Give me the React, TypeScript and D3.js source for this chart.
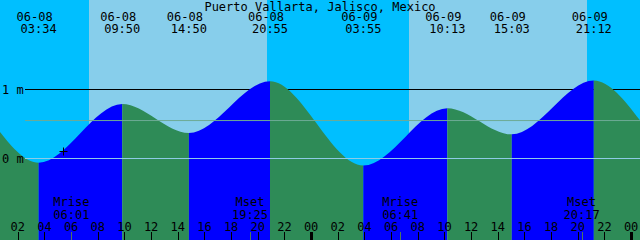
import React from "react";
import * as d3 from "d3";

const title = "Puerto Vallarta, Jalisco, Mexico";
const extremeTimes = [
  "2024-06-07T14:30",
  "2024-06-07T20:35",
  "2024-06-08T03:34",
  "2024-06-08T09:50",
  "2024-06-08T14:50",
  "2024-06-08T20:55",
  "2024-06-09T03:55",
  "2024-06-09T10:13",
  "2024-06-09T15:03",
  "2024-06-09T21:12",
  "2024-06-10T04:15",
  "2024-06-10T10:35",
];
const extremeHeights = [0.38, 1.13, -0.06, 0.79, 0.37, 1.12, -0.1, 0.73, 0.35, 1.13, -0.05, 0.68];
const dayStarts = ["2024-06-08T07:21", "2024-06-09T07:21"];
const dayEnds = ["2024-06-08T20:41", "2024-06-09T20:42"];
const moonNames = ["Mrise", "Mset", "Mrise", "Mset"];
const moonTimes = ["2024-06-08T06:01", "2024-06-08T19:25", "2024-06-09T06:41", "2024-06-09T20:17"];
const levelLabels = ["0 m", "1 m"];
const levelValues = [0, 1];
const meanLevel = 0.55;
const nowTime = "2024-06-08T05:24";
const nowHeight = 0.11;
const domainStart = "2024-06-08T00:40";
const domainEnd = "2024-06-10T00:40";

const W = 640;
const H = 240;
const parse = d3.timeParse("%Y-%m-%dT%H:%M");
const FONT = "'DejaVu Sans Mono', 'Liberation Mono', monospace";

export default function App() {
  const x = d3.scaleTime().domain([parse(domainStart)!, parse(domainEnd)!]).range([0, W]);
  const y = d3.scaleLinear().domain([0, 1]).range([158.5, 89.5]);

  const pts = extremeTimes.map((t, i) => ({ t: parse(t)!, h: extremeHeights[i] }));
  const area = d3
    .area<{ t: Date; h: number }>()
    .x((d) => x(d.t))
    .y0(H)
    .y1((d) => y(d.h))
    .curve(d3.curveMonotoneX);

  const fmtDate = d3.timeFormat("%m-%d");
  const fmtTime = d3.timeFormat("%H:%M");
  const fmtHour = d3.timeFormat("%H");
  const hourTicks = x.ticks(d3.timeHour.every(2)!);
  const visible = pts.filter((p) => x(p.t) >= 0 && x(p.t) <= W);

  const px = (v: number) => Math.round(v) + 0.5;

  const nx = x(parse(nowTime)!);
  const ny = y(nowHeight);

  return (
    <svg
      width={W}
      height={H}
      style={{ position: "absolute", left: 0, top: 0, display: "block" }}
      fontFamily={FONT}
      fontSize={12}
    >
      <defs>
        <clipPath id="water">
          <path d={area(pts) || ""} />
        </clipPath>
      </defs>
      <rect x={0} y={0} width={W} height={H} fill="#00BFFF" />
      {dayStarts.map((s, i) => (
        <rect
          key={"d" + i}
          x={x(parse(s)!)}
          y={0}
          width={x(parse(dayEnds[i])!) - x(parse(s)!)}
          height={H}
          fill="#87CEEB"
          shapeRendering="crispEdges"
        />
      ))}
      <line x1={25} x2={W} y1={y(1)} y2={y(1)} stroke="#000" strokeWidth={1} />
      <g clipPath="url(#water)">
        {pts.slice(0, -1).map((p, i) => {
          const q = pts[i + 1];
          return (
            <rect
              key={"b" + i}
              x={x(p.t)}
              y={0}
              width={x(q.t) - x(p.t)}
              height={H}
              fill={q.h > p.h ? "#0000FF" : "#2E8B57"}
            />
          );
        })}
      </g>
      <line x1={25} x2={W} y1={y(meanLevel)} y2={y(meanLevel)} stroke="#6eaa96" strokeWidth={1} />
      <line x1={25} x2={W} y1={y(0)} y2={y(0)} stroke="#8ecbe6" strokeWidth={1} />
      <g stroke="#000" strokeWidth={1}>
        <line x1={px(nx) - 4} x2={px(nx) + 4} y1={px(ny)} y2={px(ny)} />
        <line x1={px(nx)} x2={px(nx)} y1={px(ny) - 4} y2={px(ny) + 4} />
      </g>
      <text x={W / 2} y={10.5} textAnchor="middle" fill="#000">
        {title}
      </text>
      {visible.map((p, i) => (
        <g key={"e" + i} fill="#000" textAnchor="middle">
          <text x={x(p.t) - 4} y={20.5}>
            {fmtDate(p.t)}
          </text>
          <text x={x(p.t)} y={33}>
            {fmtTime(p.t)}
          </text>
        </g>
      ))}
      {levelLabels.map((l, i) => (
        <text key={"l" + i} x={2} y={y(levelValues[i]) + 4} fill="#000">
          {l}
        </text>
      ))}
      {hourTicks.map((t, i) => {
        const midnight = t.getHours() === 0;
        const xv = Math.round(x(t));
        return (
          <g key={"h" + i}>
            <text x={x(t)} y={230.5} textAnchor="middle" fill="#000">
              {fmtHour(t)}
            </text>
            <rect
              x={midnight ? xv - 1 : xv}
              y={232}
              width={midnight ? 3 : 1}
              height={8}
              fill="#000"
              shapeRendering="crispEdges"
            />
          </g>
        );
      })}
      {moonTimes.map((s, i) => {
        const t = parse(s)!;
        return (
          <g key={"m" + i}>
            <text x={x(t)} y={205.5} textAnchor="middle" fill="#000">
              {moonNames[i]}
            </text>
            <text x={x(t)} y={219} textAnchor="middle" fill="#000">
              {fmtTime(t)}
            </text>
            <rect x={Math.round(x(t))} y={232} width={1} height={8} fill="#4f7a5a" shapeRendering="crispEdges" />
          </g>
        );
      })}
    </svg>
  );
}
